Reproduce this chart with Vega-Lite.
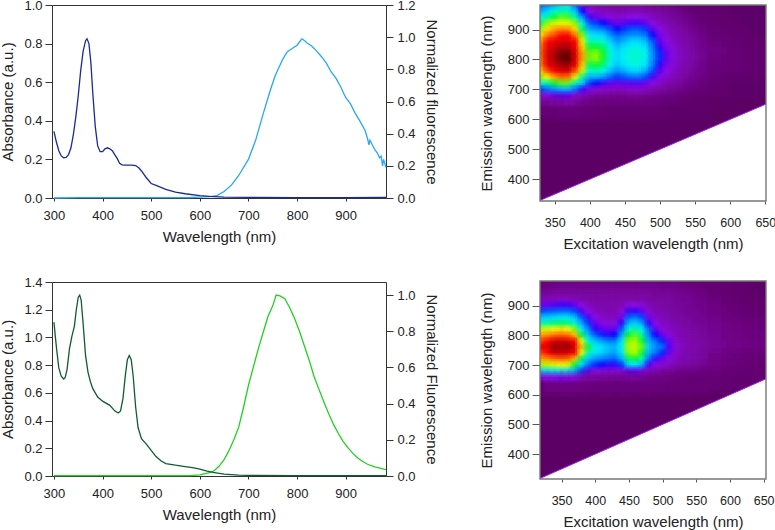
{"$schema":"https://vega.github.io/schema/vega-lite/v6.json","padding":{"left":0,"top":-2,"right":0,"bottom":0},"background":"white",
"config":{"font":"Liberation Sans","view":{"stroke":"#333","strokeWidth":1},"axis":{"grid":false,"labelFontSize":13,"titleFontSize":15,"titleFontWeight":"normal","labelColor":"#222","titleColor":"#222","tickColor":"#333","domainColor":"#333","labelFlush":false,"labelOverlap":false}},
"datasets":{
"absA":[{"w":300,"a":0.345},{"w":305,"a":0.29},{"w":310,"a":0.245},{"w":315,"a":0.218},{"w":320,"a":0.208},{"w":325,"a":0.21},{"w":330,"a":0.225},{"w":335,"a":0.26},{"w":340,"a":0.33},{"w":345,"a":0.42},{"w":350,"a":0.53},{"w":355,"a":0.66},{"w":360,"a":0.76},{"w":365,"a":0.815},{"w":368,"a":0.825},{"w":372,"a":0.8},{"w":376,"a":0.7},{"w":380,"a":0.54},{"w":385,"a":0.37},{"w":390,"a":0.27},{"w":395,"a":0.24},{"w":400,"a":0.24},{"w":405,"a":0.255},{"w":410,"a":0.26},{"w":415,"a":0.255},{"w":420,"a":0.245},{"w":425,"a":0.225},{"w":430,"a":0.205},{"w":435,"a":0.18},{"w":440,"a":0.172},{"w":445,"a":0.17},{"w":450,"a":0.17},{"w":460,"a":0.17},{"w":468,"a":0.168},{"w":475,"a":0.155},{"w":480,"a":0.14},{"w":490,"a":0.105},{"w":500,"a":0.075},{"w":510,"a":0.065},{"w":520,"a":0.055},{"w":530,"a":0.045},{"w":550,"a":0.03},{"w":570,"a":0.022},{"w":600,"a":0.012},{"w":620,"a":0.008},{"w":650,"a":0.005},{"w":700,"a":0.003},{"w":800,"a":0.002},{"w":900,"a":0.002},{"w":983,"a":0.003}],
"fluA":[{"w":300,"f":0},{"w":350,"f":0.002},{"w":400,"f":0.002},{"w":500,"f":0.002},{"w":580,"f":0.003},{"w":600,"f":0.005},{"w":620,"f":0.008},{"w":635,"f":0.015},{"w":650,"f":0.04},{"w":665,"f":0.08},{"w":680,"f":0.14},{"w":700,"f":0.24},{"w":715,"f":0.36},{"w":730,"f":0.52},{"w":745,"f":0.67},{"w":755,"f":0.76},{"w":770,"f":0.86},{"w":780,"f":0.91},{"w":790,"f":0.93},{"w":800,"f":0.95},{"w":805,"f":0.97},{"w":810,"f":0.99},{"w":815,"f":0.98},{"w":820,"f":0.965},{"w":830,"f":0.945},{"w":840,"f":0.915},{"w":850,"f":0.88},{"w":860,"f":0.84},{"w":870,"f":0.785},{"w":880,"f":0.745},{"w":890,"f":0.69},{"w":900,"f":0.625},{"w":910,"f":0.585},{"w":920,"f":0.525},{"w":930,"f":0.475},{"w":940,"f":0.42},{"w":945,"f":0.37},{"w":948,"f":0.33},{"w":950,"f":0.36},{"w":955,"f":0.33},{"w":960,"f":0.3},{"w":965,"f":0.28},{"w":970,"f":0.25},{"w":973,"f":0.26},{"w":976,"f":0.2},{"w":978,"f":0.24},{"w":983,"f":0.19}],
"absC":[{"w":300,"a":1.11},{"w":303,"a":1},{"w":306,"a":0.9},{"w":310,"a":0.78},{"w":315,"a":0.72},{"w":320,"a":0.7},{"w":323,"a":0.71},{"w":327,"a":0.77},{"w":332,"a":0.92},{"w":337,"a":1.01},{"w":342,"a":1.08},{"w":346,"a":1.2},{"w":350,"a":1.29},{"w":353,"a":1.305},{"w":356,"a":1.27},{"w":360,"a":1.1},{"w":365,"a":0.87},{"w":370,"a":0.75},{"w":375,"a":0.68},{"w":380,"a":0.63},{"w":390,"a":0.57},{"w":400,"a":0.54},{"w":415,"a":0.51},{"w":425,"a":0.47},{"w":432,"a":0.455},{"w":437,"a":0.47},{"w":442,"a":0.56},{"w":447,"a":0.73},{"w":451,"a":0.84},{"w":455,"a":0.87},{"w":459,"a":0.84},{"w":463,"a":0.72},{"w":468,"a":0.5},{"w":473,"a":0.35},{"w":480,"a":0.27},{"w":490,"a":0.23},{"w":500,"a":0.185},{"w":510,"a":0.14},{"w":520,"a":0.11},{"w":530,"a":0.09},{"w":550,"a":0.078},{"w":570,"a":0.068},{"w":585,"a":0.06},{"w":600,"a":0.05},{"w":615,"a":0.035},{"w":630,"a":0.025},{"w":650,"a":0.013},{"w":680,"a":0.007},{"w":700,"a":0.005},{"w":800,"a":0.003},{"w":900,"a":0.002},{"w":983,"a":0.003}],
"fluC":[{"w":300,"f":0.002},{"w":580,"f":0.002},{"w":600,"f":0.006},{"w":620,"f":0.018},{"w":630,"f":0.03},{"w":640,"f":0.055},{"w":650,"f":0.09},{"w":660,"f":0.14},{"w":670,"f":0.2},{"w":680,"f":0.27},{"w":690,"f":0.38},{"w":700,"f":0.5},{"w":710,"f":0.6},{"w":720,"f":0.7},{"w":730,"f":0.79},{"w":740,"f":0.88},{"w":750,"f":0.94},{"w":757,"f":1},{"w":765,"f":0.995},{"w":775,"f":0.98},{"w":785,"f":0.93},{"w":795,"f":0.87},{"w":805,"f":0.8},{"w":815,"f":0.72},{"w":825,"f":0.64},{"w":835,"f":0.55},{"w":845,"f":0.48},{"w":855,"f":0.41},{"w":865,"f":0.345},{"w":875,"f":0.285},{"w":885,"f":0.235},{"w":895,"f":0.19},{"w":905,"f":0.155},{"w":915,"f":0.125},{"w":925,"f":0.1},{"w":935,"f":0.08},{"w":945,"f":0.065},{"w":960,"f":0.05},{"w":983,"f":0.035}],
"coarseA":[{"x":580,"y":950,"v":2},{"x":580,"y":890,"v":3},{"x":580,"y":830,"v":5},{"x":580,"y":770,"v":4},{"x":580,"y":710,"v":2},{"x":610,"y":950,"v":1},{"x":610,"y":890,"v":2},{"x":610,"y":830,"v":3},{"x":610,"y":770,"v":3},{"x":610,"y":710,"v":1},{"x":640,"y":950,"v":1},{"x":640,"y":890,"v":1},{"x":640,"y":830,"v":2},{"x":640,"y":770,"v":2},{"x":640,"y":710,"v":1},{"x":340,"y":640,"v":3},{"x":370,"y":640,"v":4},{"x":400,"y":640,"v":3},{"x":430,"y":640,"v":2},{"x":460,"y":640,"v":2},{"x":490,"y":640,"v":2},{"x":520,"y":640,"v":1},{"x":550,"y":640,"v":1}],
"coarseB":[{"x":580,"y":950,"v":3},{"x":580,"y":890,"v":5},{"x":580,"y":830,"v":7},{"x":580,"y":770,"v":8},{"x":580,"y":710,"v":6},{"x":610,"y":950,"v":2},{"x":610,"y":890,"v":3},{"x":610,"y":830,"v":5},{"x":610,"y":770,"v":6},{"x":610,"y":710,"v":4},{"x":640,"y":950,"v":1},{"x":640,"y":890,"v":2},{"x":640,"y":830,"v":4},{"x":640,"y":770,"v":5},{"x":640,"y":710,"v":3},{"x":340,"y":640,"v":5},{"x":370,"y":640,"v":5},{"x":400,"y":640,"v":4},{"x":430,"y":640,"v":4},{"x":460,"y":640,"v":4},{"x":490,"y":640,"v":4},{"x":520,"y":640,"v":3},{"x":550,"y":640,"v":3},{"x":580,"y":650,"v":3},{"x":610,"y":650,"v":2},{"x":640,"y":650,"v":2}],
"fineA":[
{"x":330,"y":980,"v":34},{"x":330,"y":960,"v":42},{"x":330,"y":940,"v":50},{"x":330,"y":920,"v":58},{"x":330,"y":900,"v":66},{"x":330,"y":880,"v":74},{"x":330,"y":860,"v":80},{"x":330,"y":840,"v":84},{"x":330,"y":820,"v":85},{"x":330,"y":800,"v":84},{"x":330,"y":780,"v":82},{"x":330,"y":760,"v":76},{"x":330,"y":740,"v":64},{"x":330,"y":720,"v":50},{"x":330,"y":700,"v":32},{"x":330,"y":680,"v":18},{"x":330,"y":660,"v":8},
{"x":340,"y":980,"v":38},{"x":340,"y":960,"v":46},{"x":340,"y":940,"v":55},{"x":340,"y":920,"v":65},{"x":340,"y":900,"v":75},{"x":340,"y":880,"v":84},{"x":340,"y":860,"v":90},{"x":340,"y":840,"v":91},{"x":340,"y":820,"v":92},{"x":340,"y":800,"v":92},{"x":340,"y":780,"v":91},{"x":340,"y":760,"v":87},{"x":340,"y":740,"v":72},{"x":340,"y":720,"v":55},{"x":340,"y":700,"v":36},{"x":340,"y":680,"v":20},{"x":340,"y":660,"v":9},
{"x":350,"y":980,"v":42},{"x":350,"y":960,"v":52},{"x":350,"y":940,"v":60},{"x":350,"y":920,"v":69},{"x":350,"y":900,"v":80},{"x":350,"y":880,"v":88},{"x":350,"y":860,"v":91},{"x":350,"y":840,"v":93},{"x":350,"y":820,"v":95},{"x":350,"y":800,"v":95},{"x":350,"y":780,"v":93},{"x":350,"y":760,"v":90},{"x":350,"y":740,"v":80},{"x":350,"y":720,"v":60},{"x":350,"y":700,"v":40},{"x":350,"y":680,"v":24},{"x":350,"y":660,"v":11},
{"x":360,"y":980,"v":46},{"x":360,"y":960,"v":55},{"x":360,"y":940,"v":62},{"x":360,"y":920,"v":71},{"x":360,"y":900,"v":83},{"x":360,"y":880,"v":90},{"x":360,"y":860,"v":92},{"x":360,"y":840,"v":95},{"x":360,"y":820,"v":98},{"x":360,"y":800,"v":99},{"x":360,"y":780,"v":95},{"x":360,"y":760,"v":92},{"x":360,"y":740,"v":85},{"x":360,"y":720,"v":62},{"x":360,"y":700,"v":42},{"x":360,"y":680,"v":26},{"x":360,"y":660,"v":12},
{"x":370,"y":980,"v":46},{"x":370,"y":960,"v":54},{"x":370,"y":940,"v":61},{"x":370,"y":920,"v":70},{"x":370,"y":900,"v":82},{"x":370,"y":880,"v":90},{"x":370,"y":860,"v":92},{"x":370,"y":840,"v":95},{"x":370,"y":820,"v":99},{"x":370,"y":800,"v":100},{"x":370,"y":780,"v":96},{"x":370,"y":760,"v":92},{"x":370,"y":740,"v":84},{"x":370,"y":720,"v":62},{"x":370,"y":700,"v":42},{"x":370,"y":680,"v":25},{"x":370,"y":660,"v":12},
{"x":380,"y":980,"v":36},{"x":380,"y":960,"v":44},{"x":380,"y":940,"v":54},{"x":380,"y":920,"v":64},{"x":380,"y":900,"v":75},{"x":380,"y":880,"v":84},{"x":380,"y":860,"v":90},{"x":380,"y":840,"v":91},{"x":380,"y":820,"v":92},{"x":380,"y":800,"v":92},{"x":380,"y":780,"v":91},{"x":380,"y":760,"v":86},{"x":380,"y":740,"v":70},{"x":380,"y":720,"v":54},{"x":380,"y":700,"v":36},{"x":380,"y":680,"v":20},{"x":380,"y":660,"v":10},
{"x":390,"y":980,"v":24},{"x":390,"y":960,"v":30},{"x":390,"y":940,"v":40},{"x":390,"y":920,"v":50},{"x":390,"y":900,"v":58},{"x":390,"y":880,"v":64},{"x":390,"y":860,"v":70},{"x":390,"y":840,"v":76},{"x":390,"y":820,"v":80},{"x":390,"y":800,"v":80},{"x":390,"y":780,"v":76},{"x":390,"y":760,"v":68},{"x":390,"y":740,"v":56},{"x":390,"y":720,"v":44},{"x":390,"y":700,"v":28},{"x":390,"y":680,"v":16},{"x":390,"y":660,"v":8},
{"x":400,"y":980,"v":15},{"x":400,"y":960,"v":20},{"x":400,"y":940,"v":28},{"x":400,"y":920,"v":35},{"x":400,"y":900,"v":42},{"x":400,"y":880,"v":48},{"x":400,"y":860,"v":54},{"x":400,"y":840,"v":60},{"x":400,"y":820,"v":62},{"x":400,"y":800,"v":62},{"x":400,"y":780,"v":58},{"x":400,"y":760,"v":52},{"x":400,"y":740,"v":42},{"x":400,"y":720,"v":32},{"x":400,"y":700,"v":22},{"x":400,"y":680,"v":12},{"x":400,"y":660,"v":6},
{"x":410,"y":980,"v":12},{"x":410,"y":960,"v":16},{"x":410,"y":940,"v":24},{"x":410,"y":920,"v":32},{"x":410,"y":900,"v":40},{"x":410,"y":880,"v":47},{"x":410,"y":860,"v":54},{"x":410,"y":840,"v":60},{"x":410,"y":820,"v":64},{"x":410,"y":800,"v":64},{"x":410,"y":780,"v":60},{"x":410,"y":760,"v":54},{"x":410,"y":740,"v":42},{"x":410,"y":720,"v":30},{"x":410,"y":700,"v":18},{"x":410,"y":680,"v":10},{"x":410,"y":660,"v":5},
{"x":420,"y":980,"v":11},{"x":420,"y":960,"v":15},{"x":420,"y":940,"v":22},{"x":420,"y":920,"v":30},{"x":420,"y":900,"v":38},{"x":420,"y":880,"v":46},{"x":420,"y":860,"v":52},{"x":420,"y":840,"v":58},{"x":420,"y":820,"v":60},{"x":420,"y":800,"v":60},{"x":420,"y":780,"v":57},{"x":420,"y":760,"v":50},{"x":420,"y":740,"v":40},{"x":420,"y":720,"v":28},{"x":420,"y":700,"v":17},{"x":420,"y":680,"v":10},{"x":420,"y":660,"v":5},
{"x":430,"y":980,"v":10},{"x":430,"y":960,"v":14},{"x":430,"y":940,"v":19},{"x":430,"y":920,"v":27},{"x":430,"y":900,"v":33},{"x":430,"y":880,"v":40},{"x":430,"y":860,"v":45},{"x":430,"y":840,"v":49},{"x":430,"y":820,"v":51},{"x":430,"y":800,"v":51},{"x":430,"y":780,"v":48},{"x":430,"y":760,"v":43},{"x":430,"y":740,"v":35},{"x":430,"y":720,"v":25},{"x":430,"y":700,"v":16},{"x":430,"y":680,"v":9},{"x":430,"y":660,"v":5},
{"x":440,"y":980,"v":10},{"x":440,"y":960,"v":13},{"x":440,"y":940,"v":17},{"x":440,"y":920,"v":24},{"x":440,"y":900,"v":30},{"x":440,"y":880,"v":35},{"x":440,"y":860,"v":40},{"x":440,"y":840,"v":44},{"x":440,"y":820,"v":46},{"x":440,"y":800,"v":46},{"x":440,"y":780,"v":44},{"x":440,"y":760,"v":39},{"x":440,"y":740,"v":32},{"x":440,"y":720,"v":24},{"x":440,"y":700,"v":15},{"x":440,"y":680,"v":9},{"x":440,"y":660,"v":5},
{"x":450,"y":980,"v":10},{"x":450,"y":960,"v":13},{"x":450,"y":940,"v":18},{"x":450,"y":920,"v":26},{"x":450,"y":900,"v":32},{"x":450,"y":880,"v":38},{"x":450,"y":860,"v":43},{"x":450,"y":840,"v":47},{"x":450,"y":820,"v":49},{"x":450,"y":800,"v":49},{"x":450,"y":780,"v":47},{"x":450,"y":760,"v":42},{"x":450,"y":740,"v":34},{"x":450,"y":720,"v":25},{"x":450,"y":700,"v":16},{"x":450,"y":680,"v":9},{"x":450,"y":660,"v":5},
{"x":460,"y":980,"v":10},{"x":460,"y":960,"v":14},{"x":460,"y":940,"v":20},{"x":460,"y":920,"v":28},{"x":460,"y":900,"v":34},{"x":460,"y":880,"v":40},{"x":460,"y":860,"v":46},{"x":460,"y":840,"v":49},{"x":460,"y":820,"v":52},{"x":460,"y":800,"v":52},{"x":460,"y":780,"v":50},{"x":460,"y":760,"v":45},{"x":460,"y":740,"v":36},{"x":460,"y":720,"v":26},{"x":460,"y":700,"v":17},{"x":460,"y":680,"v":10},{"x":460,"y":660,"v":5},
{"x":470,"y":980,"v":10},{"x":470,"y":960,"v":14},{"x":470,"y":940,"v":20},{"x":470,"y":920,"v":28},{"x":470,"y":900,"v":34},{"x":470,"y":880,"v":40},{"x":470,"y":860,"v":46},{"x":470,"y":840,"v":50},{"x":470,"y":820,"v":52},{"x":470,"y":800,"v":52},{"x":470,"y":780,"v":50},{"x":470,"y":760,"v":45},{"x":470,"y":740,"v":36},{"x":470,"y":720,"v":26},{"x":470,"y":700,"v":17},{"x":470,"y":680,"v":10},{"x":470,"y":660,"v":5},
{"x":480,"y":980,"v":9},{"x":480,"y":960,"v":13},{"x":480,"y":940,"v":18},{"x":480,"y":920,"v":25},{"x":480,"y":900,"v":32},{"x":480,"y":880,"v":37},{"x":480,"y":860,"v":43},{"x":480,"y":840,"v":47},{"x":480,"y":820,"v":49},{"x":480,"y":800,"v":49},{"x":480,"y":780,"v":47},{"x":480,"y":760,"v":41},{"x":480,"y":740,"v":33},{"x":480,"y":720,"v":24},{"x":480,"y":700,"v":15},{"x":480,"y":680,"v":9},{"x":480,"y":660,"v":5},
{"x":490,"y":980,"v":8},{"x":490,"y":960,"v":11},{"x":490,"y":940,"v":15},{"x":490,"y":920,"v":20},{"x":490,"y":900,"v":26},{"x":490,"y":880,"v":30},{"x":490,"y":860,"v":34},{"x":490,"y":840,"v":37},{"x":490,"y":820,"v":39},{"x":490,"y":800,"v":39},{"x":490,"y":780,"v":37},{"x":490,"y":760,"v":33},{"x":490,"y":740,"v":27},{"x":490,"y":720,"v":20},{"x":490,"y":700,"v":13},{"x":490,"y":680,"v":8},{"x":490,"y":660,"v":4},
{"x":500,"y":980,"v":7},{"x":500,"y":960,"v":10},{"x":500,"y":940,"v":13},{"x":500,"y":920,"v":16},{"x":500,"y":900,"v":20},{"x":500,"y":880,"v":23},{"x":500,"y":860,"v":26},{"x":500,"y":840,"v":29},{"x":500,"y":820,"v":31},{"x":500,"y":800,"v":31},{"x":500,"y":780,"v":29},{"x":500,"y":760,"v":26},{"x":500,"y":740,"v":21},{"x":500,"y":720,"v":16},{"x":500,"y":700,"v":11},{"x":500,"y":680,"v":7},{"x":500,"y":660,"v":4},
{"x":510,"y":980,"v":6},{"x":510,"y":960,"v":9},{"x":510,"y":940,"v":11},{"x":510,"y":920,"v":13},{"x":510,"y":900,"v":16},{"x":510,"y":880,"v":18},{"x":510,"y":860,"v":20},{"x":510,"y":840,"v":22},{"x":510,"y":820,"v":24},{"x":510,"y":800,"v":24},{"x":510,"y":780,"v":22},{"x":510,"y":760,"v":20},{"x":510,"y":740,"v":17},{"x":510,"y":720,"v":13},{"x":510,"y":700,"v":9},{"x":510,"y":680,"v":6},{"x":510,"y":660,"v":3},
{"x":520,"y":980,"v":5},{"x":520,"y":960,"v":8},{"x":520,"y":940,"v":9},{"x":520,"y":920,"v":11},{"x":520,"y":900,"v":13},{"x":520,"y":880,"v":14},{"x":520,"y":860,"v":16},{"x":520,"y":840,"v":18},{"x":520,"y":820,"v":19},{"x":520,"y":800,"v":19},{"x":520,"y":780,"v":18},{"x":520,"y":760,"v":16},{"x":520,"y":740,"v":14},{"x":520,"y":720,"v":11},{"x":520,"y":700,"v":8},{"x":520,"y":680,"v":5},{"x":520,"y":660,"v":3},
{"x":530,"y":980,"v":4},{"x":530,"y":960,"v":6},{"x":530,"y":940,"v":8},{"x":530,"y":920,"v":9},{"x":530,"y":900,"v":11},{"x":530,"y":880,"v":12},{"x":530,"y":860,"v":13},{"x":530,"y":840,"v":14},{"x":530,"y":820,"v":15},{"x":530,"y":800,"v":15},{"x":530,"y":780,"v":14},{"x":530,"y":760,"v":13},{"x":530,"y":740,"v":11},{"x":530,"y":720,"v":9},{"x":530,"y":700,"v":7},{"x":530,"y":680,"v":4},{"x":530,"y":660,"v":2},
{"x":540,"y":980,"v":3},{"x":540,"y":960,"v":4},{"x":540,"y":940,"v":6},{"x":540,"y":920,"v":7},{"x":540,"y":900,"v":9},{"x":540,"y":880,"v":10},{"x":540,"y":860,"v":11},{"x":540,"y":840,"v":12},{"x":540,"y":820,"v":12},{"x":540,"y":800,"v":12},{"x":540,"y":780,"v":12},{"x":540,"y":760,"v":11},{"x":540,"y":740,"v":9},{"x":540,"y":720,"v":7},{"x":540,"y":700,"v":5},{"x":540,"y":680,"v":3},{"x":540,"y":660,"v":2},
{"x":550,"y":980,"v":2},{"x":550,"y":960,"v":3},{"x":550,"y":940,"v":4},{"x":550,"y":920,"v":5},{"x":550,"y":900,"v":7},{"x":550,"y":880,"v":8},{"x":550,"y":860,"v":9},{"x":550,"y":840,"v":9},{"x":550,"y":820,"v":10},{"x":550,"y":800,"v":10},{"x":550,"y":780,"v":9},{"x":550,"y":760,"v":8},{"x":550,"y":740,"v":7},{"x":550,"y":720,"v":6},{"x":550,"y":700,"v":4},{"x":550,"y":680,"v":2},{"x":550,"y":660,"v":1},
{"x":560,"y":980,"v":2},{"x":560,"y":960,"v":3},{"x":560,"y":940,"v":3},{"x":560,"y":920,"v":4},{"x":560,"y":900,"v":5},{"x":560,"y":880,"v":6},{"x":560,"y":860,"v":7},{"x":560,"y":840,"v":7},{"x":560,"y":820,"v":8},{"x":560,"y":800,"v":8},{"x":560,"y":780,"v":7},{"x":560,"y":760,"v":7},{"x":560,"y":740,"v":6},{"x":560,"y":720,"v":4},{"x":560,"y":700,"v":3},{"x":560,"y":680,"v":2},{"x":560,"y":660,"v":1}],
"fineB":[
{"x":320,"y":980,"v":4},{"x":320,"y":960,"v":6},{"x":320,"y":940,"v":9},{"x":320,"y":920,"v":14},{"x":320,"y":900,"v":24},{"x":320,"y":880,"v":33},{"x":320,"y":860,"v":44},{"x":320,"y":840,"v":54},{"x":320,"y":820,"v":68},{"x":320,"y":800,"v":80},{"x":320,"y":780,"v":88},{"x":320,"y":760,"v":91},{"x":320,"y":740,"v":88},{"x":320,"y":720,"v":80},{"x":320,"y":700,"v":66},{"x":320,"y":680,"v":46},{"x":320,"y":660,"v":18},
{"x":330,"y":980,"v":4},{"x":330,"y":960,"v":6},{"x":330,"y":940,"v":9},{"x":330,"y":920,"v":15},{"x":330,"y":900,"v":25},{"x":330,"y":880,"v":34},{"x":330,"y":860,"v":45},{"x":330,"y":840,"v":55},{"x":330,"y":820,"v":70},{"x":330,"y":800,"v":82},{"x":330,"y":780,"v":90},{"x":330,"y":760,"v":92},{"x":330,"y":740,"v":90},{"x":330,"y":720,"v":82},{"x":330,"y":700,"v":68},{"x":330,"y":680,"v":47},{"x":330,"y":660,"v":19},
{"x":340,"y":980,"v":5},{"x":340,"y":960,"v":7},{"x":340,"y":940,"v":10},{"x":340,"y":920,"v":15},{"x":340,"y":900,"v":27},{"x":340,"y":880,"v":35},{"x":340,"y":860,"v":46},{"x":340,"y":840,"v":57},{"x":340,"y":820,"v":72},{"x":340,"y":800,"v":85},{"x":340,"y":780,"v":92},{"x":340,"y":760,"v":97},{"x":340,"y":740,"v":93},{"x":340,"y":720,"v":85},{"x":340,"y":700,"v":70},{"x":340,"y":680,"v":49},{"x":340,"y":660,"v":21},
{"x":350,"y":980,"v":6},{"x":350,"y":960,"v":8},{"x":350,"y":940,"v":10},{"x":350,"y":920,"v":16},{"x":350,"y":900,"v":28},{"x":350,"y":880,"v":36},{"x":350,"y":860,"v":47},{"x":350,"y":840,"v":58},{"x":350,"y":820,"v":74},{"x":350,"y":800,"v":86},{"x":350,"y":780,"v":93},{"x":350,"y":760,"v":95},{"x":350,"y":740,"v":93},{"x":350,"y":720,"v":86},{"x":350,"y":700,"v":72},{"x":350,"y":680,"v":50},{"x":350,"y":660,"v":22},
{"x":360,"y":980,"v":6},{"x":360,"y":960,"v":8},{"x":360,"y":940,"v":10},{"x":360,"y":920,"v":16},{"x":360,"y":900,"v":28},{"x":360,"y":880,"v":36},{"x":360,"y":860,"v":47},{"x":360,"y":840,"v":57},{"x":360,"y":820,"v":72},{"x":360,"y":800,"v":85},{"x":360,"y":780,"v":92},{"x":360,"y":760,"v":97},{"x":360,"y":740,"v":92},{"x":360,"y":720,"v":85},{"x":360,"y":700,"v":70},{"x":360,"y":680,"v":49},{"x":360,"y":660,"v":21},
{"x":370,"y":980,"v":6},{"x":370,"y":960,"v":8},{"x":370,"y":940,"v":10},{"x":370,"y":920,"v":15},{"x":370,"y":900,"v":25},{"x":370,"y":880,"v":33},{"x":370,"y":860,"v":44},{"x":370,"y":840,"v":52},{"x":370,"y":820,"v":64},{"x":370,"y":800,"v":78},{"x":370,"y":780,"v":90},{"x":370,"y":760,"v":92},{"x":370,"y":740,"v":90},{"x":370,"y":720,"v":78},{"x":370,"y":700,"v":60},{"x":370,"y":680,"v":42},{"x":370,"y":660,"v":18},
{"x":380,"y":980,"v":6},{"x":380,"y":960,"v":8},{"x":380,"y":940,"v":10},{"x":380,"y":920,"v":13},{"x":380,"y":900,"v":20},{"x":380,"y":880,"v":27},{"x":380,"y":860,"v":34},{"x":380,"y":840,"v":42},{"x":380,"y":820,"v":48},{"x":380,"y":800,"v":60},{"x":380,"y":780,"v":72},{"x":380,"y":760,"v":78},{"x":380,"y":740,"v":72},{"x":380,"y":720,"v":58},{"x":380,"y":700,"v":46},{"x":380,"y":680,"v":33},{"x":380,"y":660,"v":14},
{"x":390,"y":980,"v":6},{"x":390,"y":960,"v":8},{"x":390,"y":940,"v":10},{"x":390,"y":920,"v":12},{"x":390,"y":900,"v":16},{"x":390,"y":880,"v":20},{"x":390,"y":860,"v":27},{"x":390,"y":840,"v":32},{"x":390,"y":820,"v":38},{"x":390,"y":800,"v":44},{"x":390,"y":780,"v":52},{"x":390,"y":760,"v":60},{"x":390,"y":740,"v":54},{"x":390,"y":720,"v":44},{"x":390,"y":700,"v":36},{"x":390,"y":680,"v":25},{"x":390,"y":660,"v":11},
{"x":400,"y":980,"v":6},{"x":400,"y":960,"v":8},{"x":400,"y":940,"v":10},{"x":400,"y":920,"v":11},{"x":400,"y":900,"v":13},{"x":400,"y":880,"v":16},{"x":400,"y":860,"v":20},{"x":400,"y":840,"v":25},{"x":400,"y":820,"v":29},{"x":400,"y":800,"v":35},{"x":400,"y":780,"v":44},{"x":400,"y":760,"v":50},{"x":400,"y":740,"v":47},{"x":400,"y":720,"v":40},{"x":400,"y":700,"v":31},{"x":400,"y":680,"v":20},{"x":400,"y":660,"v":10},
{"x":410,"y":980,"v":6},{"x":410,"y":960,"v":8},{"x":410,"y":940,"v":10},{"x":410,"y":920,"v":11},{"x":410,"y":900,"v":12},{"x":410,"y":880,"v":14},{"x":410,"y":860,"v":17},{"x":410,"y":840,"v":21},{"x":410,"y":820,"v":26},{"x":410,"y":800,"v":31},{"x":410,"y":780,"v":41},{"x":410,"y":760,"v":47},{"x":410,"y":740,"v":45},{"x":410,"y":720,"v":38},{"x":410,"y":700,"v":30},{"x":410,"y":680,"v":20},{"x":410,"y":660,"v":9},
{"x":420,"y":980,"v":6},{"x":420,"y":960,"v":8},{"x":420,"y":940,"v":10},{"x":420,"y":920,"v":11},{"x":420,"y":900,"v":12},{"x":420,"y":880,"v":13},{"x":420,"y":860,"v":15},{"x":420,"y":840,"v":19},{"x":420,"y":820,"v":24},{"x":420,"y":800,"v":29},{"x":420,"y":780,"v":38},{"x":420,"y":760,"v":44},{"x":420,"y":740,"v":42},{"x":420,"y":720,"v":36},{"x":420,"y":700,"v":29},{"x":420,"y":680,"v":19},{"x":420,"y":660,"v":9},
{"x":430,"y":980,"v":6},{"x":430,"y":960,"v":8},{"x":430,"y":940,"v":10},{"x":430,"y":920,"v":11},{"x":430,"y":900,"v":12},{"x":430,"y":880,"v":13},{"x":430,"y":860,"v":15},{"x":430,"y":840,"v":19},{"x":430,"y":820,"v":25},{"x":430,"y":800,"v":30},{"x":430,"y":780,"v":38},{"x":430,"y":760,"v":43},{"x":430,"y":740,"v":41},{"x":430,"y":720,"v":35},{"x":430,"y":700,"v":29},{"x":430,"y":680,"v":19},{"x":430,"y":660,"v":8},
{"x":440,"y":980,"v":6},{"x":440,"y":960,"v":8},{"x":440,"y":940,"v":10},{"x":440,"y":920,"v":11},{"x":440,"y":900,"v":14},{"x":440,"y":880,"v":18},{"x":440,"y":860,"v":23},{"x":440,"y":840,"v":29},{"x":440,"y":820,"v":35},{"x":440,"y":800,"v":42},{"x":440,"y":780,"v":47},{"x":440,"y":760,"v":50},{"x":440,"y":740,"v":47},{"x":440,"y":720,"v":42},{"x":440,"y":700,"v":32},{"x":440,"y":680,"v":19},{"x":440,"y":660,"v":8},
{"x":450,"y":980,"v":6},{"x":450,"y":960,"v":8},{"x":450,"y":940,"v":10},{"x":450,"y":920,"v":12},{"x":450,"y":900,"v":19},{"x":450,"y":880,"v":28},{"x":450,"y":860,"v":35},{"x":450,"y":840,"v":43},{"x":450,"y":820,"v":52},{"x":450,"y":800,"v":60},{"x":450,"y":780,"v":64},{"x":450,"y":760,"v":66},{"x":450,"y":740,"v":64},{"x":450,"y":720,"v":58},{"x":450,"y":700,"v":46},{"x":450,"y":680,"v":25},{"x":450,"y":660,"v":9},
{"x":460,"y":980,"v":6},{"x":460,"y":960,"v":8},{"x":460,"y":940,"v":10},{"x":460,"y":920,"v":12},{"x":460,"y":900,"v":20},{"x":460,"y":880,"v":29},{"x":460,"y":860,"v":37},{"x":460,"y":840,"v":45},{"x":460,"y":820,"v":55},{"x":460,"y":800,"v":62},{"x":460,"y":780,"v":66},{"x":460,"y":760,"v":68},{"x":460,"y":740,"v":66},{"x":460,"y":720,"v":60},{"x":460,"y":700,"v":47},{"x":460,"y":680,"v":26},{"x":460,"y":660,"v":9},
{"x":470,"y":980,"v":6},{"x":470,"y":960,"v":8},{"x":470,"y":940,"v":10},{"x":470,"y":920,"v":12},{"x":470,"y":900,"v":18},{"x":470,"y":880,"v":25},{"x":470,"y":860,"v":33},{"x":470,"y":840,"v":41},{"x":470,"y":820,"v":49},{"x":470,"y":800,"v":56},{"x":470,"y":780,"v":60},{"x":470,"y":760,"v":62},{"x":470,"y":740,"v":60},{"x":470,"y":720,"v":54},{"x":470,"y":700,"v":42},{"x":470,"y":680,"v":22},{"x":470,"y":660,"v":8},
{"x":480,"y":980,"v":6},{"x":480,"y":960,"v":8},{"x":480,"y":940,"v":10},{"x":480,"y":920,"v":11},{"x":480,"y":900,"v":14},{"x":480,"y":880,"v":18},{"x":480,"y":860,"v":23},{"x":480,"y":840,"v":29},{"x":480,"y":820,"v":35},{"x":480,"y":800,"v":38},{"x":480,"y":780,"v":42},{"x":480,"y":760,"v":45},{"x":480,"y":740,"v":42},{"x":480,"y":720,"v":36},{"x":480,"y":700,"v":27},{"x":480,"y":680,"v":16},{"x":480,"y":660,"v":7},
{"x":490,"y":980,"v":6},{"x":490,"y":960,"v":8},{"x":490,"y":940,"v":9},{"x":490,"y":920,"v":10},{"x":490,"y":900,"v":12},{"x":490,"y":880,"v":13},{"x":490,"y":860,"v":16},{"x":490,"y":840,"v":20},{"x":490,"y":820,"v":25},{"x":490,"y":800,"v":30},{"x":490,"y":780,"v":36},{"x":490,"y":760,"v":40},{"x":490,"y":740,"v":36},{"x":490,"y":720,"v":28},{"x":490,"y":700,"v":20},{"x":490,"y":680,"v":13},{"x":490,"y":660,"v":6},
{"x":500,"y":980,"v":5},{"x":500,"y":960,"v":7},{"x":500,"y":940,"v":9},{"x":500,"y":920,"v":10},{"x":500,"y":900,"v":11},{"x":500,"y":880,"v":12},{"x":500,"y":860,"v":14},{"x":500,"y":840,"v":16},{"x":500,"y":820,"v":19},{"x":500,"y":800,"v":24},{"x":500,"y":780,"v":31},{"x":500,"y":760,"v":36},{"x":500,"y":740,"v":31},{"x":500,"y":720,"v":24},{"x":500,"y":700,"v":18},{"x":500,"y":680,"v":11},{"x":500,"y":660,"v":6},
{"x":510,"y":980,"v":5},{"x":510,"y":960,"v":7},{"x":510,"y":940,"v":9},{"x":510,"y":920,"v":10},{"x":510,"y":900,"v":10},{"x":510,"y":880,"v":11},{"x":510,"y":860,"v":12},{"x":510,"y":840,"v":14},{"x":510,"y":820,"v":16},{"x":510,"y":800,"v":19},{"x":510,"y":780,"v":24},{"x":510,"y":760,"v":27},{"x":510,"y":740,"v":24},{"x":510,"y":720,"v":19},{"x":510,"y":700,"v":15},{"x":510,"y":680,"v":10},{"x":510,"y":660,"v":5},
{"x":520,"y":980,"v":5},{"x":520,"y":960,"v":7},{"x":520,"y":940,"v":8},{"x":520,"y":920,"v":9},{"x":520,"y":900,"v":9},{"x":520,"y":880,"v":10},{"x":520,"y":860,"v":11},{"x":520,"y":840,"v":12},{"x":520,"y":820,"v":14},{"x":520,"y":800,"v":15},{"x":520,"y":780,"v":17},{"x":520,"y":760,"v":18},{"x":520,"y":740,"v":17},{"x":520,"y":720,"v":15},{"x":520,"y":700,"v":12},{"x":520,"y":680,"v":8},{"x":520,"y":660,"v":4},
{"x":530,"y":980,"v":4},{"x":530,"y":960,"v":6},{"x":530,"y":940,"v":8},{"x":530,"y":920,"v":8},{"x":530,"y":900,"v":9},{"x":530,"y":880,"v":9},{"x":530,"y":860,"v":10},{"x":530,"y":840,"v":11},{"x":530,"y":820,"v":12},{"x":530,"y":800,"v":13},{"x":530,"y":780,"v":14},{"x":530,"y":760,"v":15},{"x":530,"y":740,"v":14},{"x":530,"y":720,"v":13},{"x":530,"y":700,"v":11},{"x":530,"y":680,"v":7},{"x":530,"y":660,"v":4},
{"x":540,"y":980,"v":4},{"x":540,"y":960,"v":5},{"x":540,"y":940,"v":7},{"x":540,"y":920,"v":8},{"x":540,"y":900,"v":8},{"x":540,"y":880,"v":8},{"x":540,"y":860,"v":9},{"x":540,"y":840,"v":10},{"x":540,"y":820,"v":11},{"x":540,"y":800,"v":12},{"x":540,"y":780,"v":12},{"x":540,"y":760,"v":13},{"x":540,"y":740,"v":12},{"x":540,"y":720,"v":12},{"x":540,"y":700,"v":10},{"x":540,"y":680,"v":7},{"x":540,"y":660,"v":3},
{"x":550,"y":980,"v":3},{"x":550,"y":960,"v":5},{"x":550,"y":940,"v":6},{"x":550,"y":920,"v":7},{"x":550,"y":900,"v":7},{"x":550,"y":880,"v":8},{"x":550,"y":860,"v":8},{"x":550,"y":840,"v":9},{"x":550,"y":820,"v":10},{"x":550,"y":800,"v":11},{"x":550,"y":780,"v":11},{"x":550,"y":760,"v":12},{"x":550,"y":740,"v":11},{"x":550,"y":720,"v":11},{"x":550,"y":700,"v":9},{"x":550,"y":680,"v":6},{"x":550,"y":660,"v":3},
{"x":560,"y":980,"v":3},{"x":560,"y":960,"v":4},{"x":560,"y":940,"v":5},{"x":560,"y":920,"v":6},{"x":560,"y":900,"v":7},{"x":560,"y":880,"v":7},{"x":560,"y":860,"v":8},{"x":560,"y":840,"v":8},{"x":560,"y":820,"v":9},{"x":560,"y":800,"v":10},{"x":560,"y":780,"v":10},{"x":560,"y":760,"v":11},{"x":560,"y":740,"v":10},{"x":560,"y":720,"v":10},{"x":560,"y":700,"v":8},{"x":560,"y":680,"v":5},{"x":560,"y":660,"v":3}]
},
"hconcat":[
{"vconcat":[
{"width":334,"height":193,"resolve":{"scale":{"y":"independent"}},"layer":[
{"data":{"name":"fluA"},"mark":{"type":"line","color":"#25a9f2","strokeWidth":1.3,"interpolate":"linear"},"encoding":{"x":{"field":"w","type":"quantitative","scale":{"domain":[296,983],"nice":false,"zero":false},"axis":{"values":[300,400,500,600,700,800,900],"title":"Wavelength (nm)","tickSize":3,"labelPadding":8,"titlePadding":7,"domain":false}},"y":{"field":"f","type":"quantitative","scale":{"domain":[0,1.2],"nice":false},"axis":{"orient":"right","values":[0,0.2,0.4,0.6,0.8,1,1.2],"format":".1f","title":"Normalized fluorescence","tickSize":7,"labelPadding":4,"titlePadding":8,"domain":false}}}},
{"data":{"name":"absA"},"mark":{"type":"line","color":"#1a2a96","strokeWidth":1.3},"encoding":{"x":{"field":"w","type":"quantitative"},"y":{"field":"a","type":"quantitative","scale":{"domain":[0,1],"nice":false},"axis":{"orient":"left","values":[0,0.2,0.4,0.6,0.8,1],"format":".1f","title":"Absorbance (a.u.)","tickSize":7,"labelPadding":3,"titlePadding":8,"domain":false}}}}
]},
{"width":334,"height":194,"resolve":{"scale":{"y":"independent"}},"layer":[
{"data":{"name":"fluC"},"mark":{"type":"line","color":"#22d022","strokeWidth":1.3},"encoding":{"x":{"field":"w","type":"quantitative","scale":{"domain":[296,983],"nice":false,"zero":false},"axis":{"values":[300,400,500,600,700,800,900],"title":"Wavelength (nm)","tickSize":3,"labelPadding":8,"titlePadding":7,"domain":false}},"y":{"field":"f","type":"quantitative","scale":{"domain":[0,1.072],"nice":false},"axis":{"orient":"right","values":[0,0.2,0.4,0.6,0.8,1],"format":".1f","title":"Normalized Fluorescence","tickSize":7,"labelPadding":4,"titlePadding":8,"domain":false}}}},
{"data":{"name":"absC"},"mark":{"type":"line","color":"#0f5c30","strokeWidth":1.3},"encoding":{"x":{"field":"w","type":"quantitative"},"y":{"field":"a","type":"quantitative","scale":{"domain":[0,1.4],"nice":false},"axis":{"orient":"left","values":[0,0.2,0.4,0.6,0.8,1,1.2,1.4],"format":".1f","title":"Absorbance (a.u.)","tickSize":7,"labelPadding":3,"titlePadding":8,"domain":false}}}}
]}
],"spacing":84,"bounds":"flush"},
{"vconcat":[
{"width":226,"height":196,"view":{"fill":"#5c0066","stroke":null},"layer":[
{"data":{"name":"coarseA"},"mark":{"type":"rect","width":21.5,"height":18.5,"clip":true},"encoding":{"x":{"field":"x","type":"quantitative","scale":{"domain":[329,651],"nice":false,"zero":false},"axis":{"values":[350,400,450,500,550,600,650],"labelOverlap":false,"labelFontSize":12.5,"title":"Excitation wavelength (nm)","tickSize":3,"labelPadding":12,"titlePadding":8,"tickColor":"#555","domain":false}},"y":{"field":"y","type":"quantitative","scale":{"domain":[327,982],"nice":false,"zero":false},"axis":{"values":[400,500,600,700,800,900],"labelOverlap":false,"title":"Emission wavelength (nm)","tickSize":8,"labelPadding":3,"titlePadding":13,"tickColor":"#555","domain":false}},"color":{"field":"v","type":"quantitative","legend":null,"scale":{"domain":[0,10,20,30,40,48,60,72,82,90,100],"range":["#5c0066","#7a0aa0","#8a10e4","#0808ff","#0096ff","#08f0f8","#10f830","#fcfc00","#ff8c00","#ff0600","#600000"]}}}},
{"data":{"name":"fineA"},"mark":{"type":"rect","width":7.6,"height":6.6,"clip":true},"encoding":{"x":{"field":"x","type":"quantitative","axis":{"values":[350,400,450,500,550,600,650],"labelOverlap":false}},"y":{"field":"y","type":"quantitative","axis":{"values":[400,500,600,700,800,900],"labelOverlap":false}},"color":{"field":"v","type":"quantitative","legend":null}}},
{"data":{"name":"coarseA"},"mark":{"type":"rect","width":32,"height":28,"clip":true,"opacity":0.35},"encoding":{"x":{"field":"x","type":"quantitative","axis":{"values":[350,400,450,500,550,600,650],"labelOverlap":false}},"y":{"field":"y","type":"quantitative","axis":{"values":[400,500,600,700,800,900],"labelOverlap":false}},"color":{"field":"v","type":"quantitative","legend":null}}},
{"data":{"name":"fineA"},"mark":{"type":"rect","width":14,"height":12,"clip":true,"opacity":0.2},"encoding":{"x":{"field":"x","type":"quantitative","axis":{"values":[350,400,450,500,550,600,650],"labelOverlap":false}},"y":{"field":"y","type":"quantitative","axis":{"values":[400,500,600,700,800,900],"labelOverlap":false}},"color":{"field":"v","type":"quantitative","legend":null}}},
{"data":{"name":"fineA"},"mark":{"type":"rect","width":10,"height":8.8,"clip":true,"opacity":0.3},"encoding":{"x":{"field":"x","type":"quantitative","axis":{"values":[350,400,450,500,550,600,650],"labelOverlap":false}},"y":{"field":"y","type":"quantitative","axis":{"values":[400,500,600,700,800,900],"labelOverlap":false}},"color":{"field":"v","type":"quantitative","legend":null}}},
{"data":{"values":[{"ex":329,"lo":327,"hi":329},{"ex":651,"lo":327,"hi":651}]},"mark":{"type":"area","color":"white","opacity":1},"encoding":{"x":{"field":"ex","type":"quantitative","axis":{"values":[350,400,450,500,550,600,650],"labelOverlap":false}},"y":{"field":"hi","type":"quantitative","axis":{"values":[400,500,600,700,800,900],"labelOverlap":false}},"y2":{"field":"lo"}}},
{"data":{"values":[{"ex":329,"hi":329},{"ex":651,"hi":651}]},"mark":{"type":"line","color":"#a020f0","strokeWidth":1},"encoding":{"x":{"field":"ex","type":"quantitative","axis":{"values":[350,400,450,500,550,600,650],"labelOverlap":false}},"y":{"field":"hi","type":"quantitative","axis":{"values":[400,500,600,700,800,900],"labelOverlap":false}}}},
{"data":{"values":[{"a":329,"b":651,"c":327,"d":982}]},"mark":{"type":"rect","fillOpacity":0,"stroke":"#777","strokeWidth":1.4},"encoding":{"x":{"field":"a","type":"quantitative","axis":{"values":[350,400,450,500,550,600,650],"labelOverlap":false}},"x2":{"field":"b"},"y":{"field":"c","type":"quantitative","axis":{"values":[400,500,600,700,800,900],"labelOverlap":false}},"y2":{"field":"d"}}}
]},
{"width":226,"height":198,"view":{"fill":"#5c0066","stroke":null},"layer":[
{"data":{"name":"coarseB"},"mark":{"type":"rect","width":21,"height":18.3,"clip":true},"encoding":{"x":{"field":"x","type":"quantitative","scale":{"domain":[318,653.5],"nice":false,"zero":false},"axis":{"values":[350,400,450,500,550,600,650],"labelOverlap":false,"labelFontSize":12.5,"title":"Excitation wavelength (nm)","tickSize":3,"labelPadding":12,"titlePadding":8,"tickColor":"#555","domain":false}},"y":{"field":"y","type":"quantitative","scale":{"domain":[316,983],"nice":false,"zero":false},"axis":{"values":[400,500,600,700,800,900],"labelOverlap":false,"title":"Emission wavelength (nm)","tickSize":8,"labelPadding":3,"titlePadding":13,"tickColor":"#555","domain":false}},"color":{"field":"v","type":"quantitative","legend":null,"scale":{"domain":[0,10,20,30,40,48,60,72,82,90,100],"range":["#5c0066","#7a0aa0","#8a10e4","#0808ff","#0096ff","#08f0f8","#10f830","#fcfc00","#ff8c00","#ff0600","#600000"]}}}},
{"data":{"name":"fineB"},"mark":{"type":"rect","width":7.2,"height":6.4,"clip":true},"encoding":{"x":{"field":"x","type":"quantitative","axis":{"values":[350,400,450,500,550,600,650],"labelOverlap":false}},"y":{"field":"y","type":"quantitative","axis":{"values":[400,500,600,700,800,900],"labelOverlap":false}},"color":{"field":"v","type":"quantitative","legend":null}}},
{"data":{"name":"coarseB"},"mark":{"type":"rect","width":31,"height":28,"clip":true,"opacity":0.35},"encoding":{"x":{"field":"x","type":"quantitative","axis":{"values":[350,400,450,500,550,600,650],"labelOverlap":false}},"y":{"field":"y","type":"quantitative","axis":{"values":[400,500,600,700,800,900],"labelOverlap":false}},"color":{"field":"v","type":"quantitative","legend":null}}},
{"data":{"name":"fineB"},"mark":{"type":"rect","width":13.5,"height":12,"clip":true,"opacity":0.2},"encoding":{"x":{"field":"x","type":"quantitative","axis":{"values":[350,400,450,500,550,600,650],"labelOverlap":false}},"y":{"field":"y","type":"quantitative","axis":{"values":[400,500,600,700,800,900],"labelOverlap":false}},"color":{"field":"v","type":"quantitative","legend":null}}},
{"data":{"name":"fineB"},"mark":{"type":"rect","width":9.6,"height":8.6,"clip":true,"opacity":0.3},"encoding":{"x":{"field":"x","type":"quantitative","axis":{"values":[350,400,450,500,550,600,650],"labelOverlap":false}},"y":{"field":"y","type":"quantitative","axis":{"values":[400,500,600,700,800,900],"labelOverlap":false}},"color":{"field":"v","type":"quantitative","legend":null}}},
{"data":{"values":[{"ex":318,"lo":316,"hi":318},{"ex":653.5,"lo":316,"hi":653.5}]},"mark":{"type":"area","color":"white","opacity":1},"encoding":{"x":{"field":"ex","type":"quantitative","axis":{"values":[350,400,450,500,550,600,650],"labelOverlap":false}},"y":{"field":"hi","type":"quantitative","axis":{"values":[400,500,600,700,800,900],"labelOverlap":false}},"y2":{"field":"lo"}}},
{"data":{"values":[{"ex":318,"hi":318},{"ex":653.5,"hi":653.5}]},"mark":{"type":"line","color":"#a020f0","strokeWidth":1},"encoding":{"x":{"field":"ex","type":"quantitative","axis":{"values":[350,400,450,500,550,600,650],"labelOverlap":false}},"y":{"field":"hi","type":"quantitative","axis":{"values":[400,500,600,700,800,900],"labelOverlap":false}}}},
{"data":{"values":[{"a":318,"b":653.5,"c":316,"d":983}]},"mark":{"type":"rect","fillOpacity":0,"stroke":"#777","strokeWidth":1.4},"encoding":{"x":{"field":"a","type":"quantitative","axis":{"values":[350,400,450,500,550,600,650],"labelOverlap":false}},"x2":{"field":"b"},"y":{"field":"c","type":"quantitative","axis":{"values":[400,500,600,700,800,900],"labelOverlap":false}},"y2":{"field":"d"}}}
]}
],"spacing":80,"bounds":"flush"}
],"spacing":488,"bounds":"flush"}
